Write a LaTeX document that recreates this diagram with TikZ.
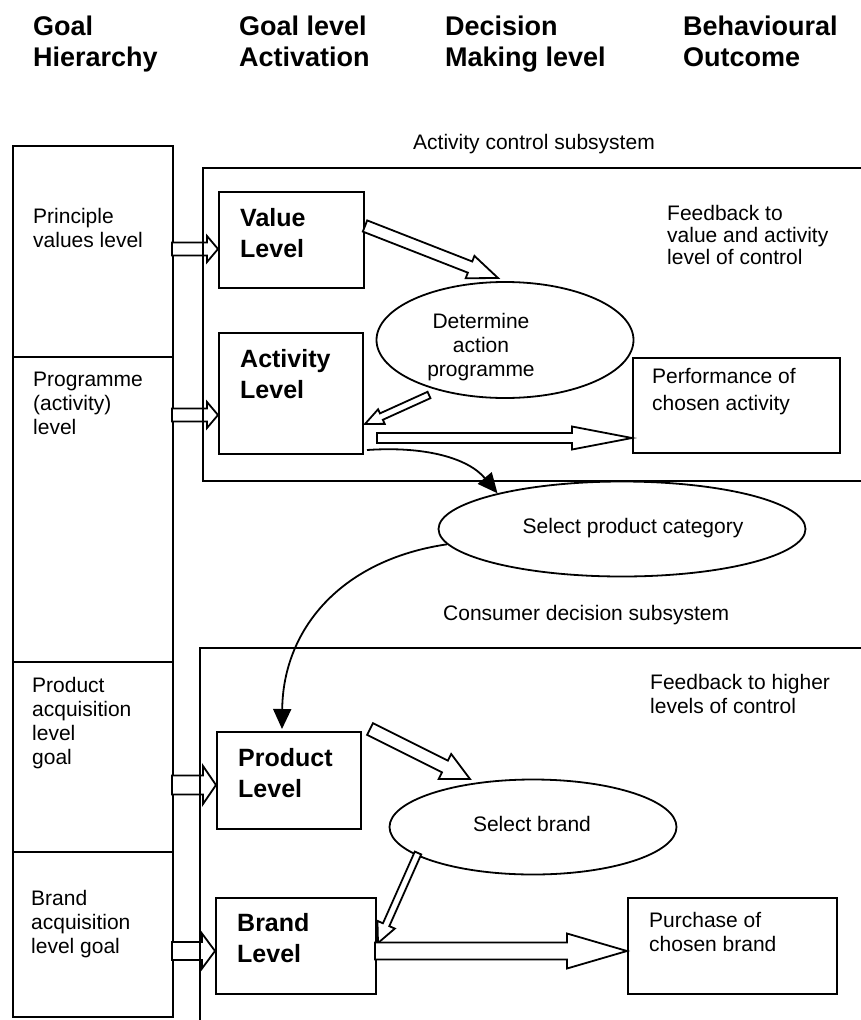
\documentclass[tikz,border=0pt]{standalone}
\usepackage{fontspec}
\setmainfont{Liberation Sans}
\usetikzlibrary{shapes.geometric,arrows.meta,calc}

% stacked lines, first baseline is the node baseline
\newcommand\stack[1]{\begin{tabular}[t]{@{}l@{}}#1\end{tabular}}
\newcommand\cstack[1]{\begin{tabular}[t]{@{}c@{}}#1\end{tabular}}

\newcommand\hdrfont{\fontsize{27}{31}\bfseries\selectfont}
\newcommand\txtfont{\fontsize{21}{24}\selectfont}
\newcommand\fbfont{\fontsize{21}{22}\selectfont}
\newcommand\lvlfont{\fontsize{25}{31.5}\bfseries\selectfont}

% hollow block arrow: start, tip, shaft half-width, head half-width, head length
\newcommand\blockarrow[5]{%
  \draw[blk] let \p1=(#1), \p2=(#2),
      \n2={veclen(\x2-(\x1),\y2-(\y1))-#5},
      \p3=($(\p1)!\n2!(\p2)$)
    in ($(\p1)!#3pt!90:(\p2)$)
    -- ($(\p3)!#3pt!90:(\p2)$)
    -- ($(\p3)!#4pt!90:(\p2)$)
    -- (\p2)
    -- ($(\p3)!#4pt!-90:(\p2)$)
    -- ($(\p3)!#3pt!-90:(\p2)$)
    -- ($(\p1)!#3pt!-90:(\p2)$)
    -- cycle;}

\begin{document}
\begin{tikzpicture}[x=1pt,y=-1pt,
  hdr/.style={anchor=base west, inner sep=0pt, font=\hdrfont},
  txt/.style={anchor=base west, inner sep=0pt, font=\txtfont},
  ctxt/.style={anchor=base, inner sep=0pt, font=\txtfont},
  lvl/.style={anchor=base west, inner sep=0pt, font=\lvlfont},
  frame/.style={draw, line width=2pt},
  cell/.style={draw, line width=2pt, anchor=north west, inner sep=0pt, minimum width=160pt},
  box/.style={draw, line width=2pt, anchor=north west, inner sep=0pt},
  oval/.style={draw, ellipse, line width=1.8pt, inner sep=0pt},
  blk/.style={draw, fill=white, line width=1.8pt, line join=miter},
  curve/.style={line width=1.8pt, -{Triangle[length=20pt,width=18pt]}}]
\useasboundingbox[fill=white] (0,0) rectangle (861,1020);

% column headings
\node[hdr] (h1) at (33,35) {\stack{Goal\\Hierarchy}};
\node[hdr] (h2) at (239,35) {\stack{Goal level\\Activation}};
\node[hdr] (h3) at (445,35) {\stack{Decision\\Making level}};
\node[hdr] (h4) at (683,35) {\stack{Behavioural\\Outcome}};

% goal hierarchy column
\node[cell, minimum height=211pt] (cA) at (12,145) {};
\node[cell, minimum height=305pt] (cB) at (12,356) {};
\node[cell, minimum height=190pt] (cC) at (12,661) {};
\node[cell, minimum height=165pt] (cD) at (12,851) {};
\node[txt] (tA) at (33,223) {\stack{Principle\\values level}};
\node[txt] (tB) at (33,386) {\stack{Programme\\(activity)\\level}};
\node[txt] (tC) at (32,692) {\stack{Product\\acquisition\\level\\goal}};
\node[txt] (tD) at (31,905) {\stack{Brand\\acquisition\\level goal}};

% level boxes
\node[box, minimum width=145pt, minimum height=96pt] (val) at (218,191) {};
\node[lvl] (valt) at (240,226) {\stack{Value\\Level}};
\node[box, minimum width=144pt, minimum height=121pt] (act) at (218,332) {};
\node[lvl] (actt) at (240,367) {\stack{Activity\\Level}};
\node[box, minimum width=144pt, minimum height=97pt] (prod) at (216,731) {};
\node[lvl] (prodt) at (238,766) {\stack{Product\\Level}};
\node[box, minimum width=160pt, minimum height=96pt] (brand) at (215,897) {};
\node[lvl] (brandt) at (237,931) {\stack{Brand\\Level}};

% outcome boxes
\node[box, minimum width=207pt, minimum height=95pt] (perf) at (632,357) {};
\node[txt] (perft) at (652,383) {\stack{Performance of\\[3pt]chosen activity}};
\node[box, minimum width=209pt, minimum height=96pt] (purch) at (627,897) {};
\node[txt] (purcht) at (649,927) {\stack{Purchase of\\chosen brand}};

% decision ellipses
\node[oval, minimum width=257pt, minimum height=116pt] (det) at (505,340) {};
\node[ctxt] (dett) at (481,328) {\cstack{Determine\\action\\programme}};
\node[oval, minimum width=367pt, minimum height=95pt] (spc) at (622,529) {};
\node[ctxt] (spct) at (633,533) {Select product category};
\node[oval, minimum width=287pt, minimum height=95pt] (sb) at (533,827) {};
\node[ctxt] (sbt) at (532,831) {Select brand};

% subsystem captions and feedback notes
\node[txt] (acs) at (413,149) {Activity control subsystem};
\node[txt] (cds) at (443,620) {Consumer decision subsystem};
\node[txt, font=\fbfont] (fb1) at (667,220) {\stack{Feedback to\\value and activity\\level of control}};
\node[txt] (fb2) at (650,689) {\stack{Feedback to higher\\levels of control}};

% arrow end points
\coordinate (a1s) at (172,249);  \coordinate (a1e) at (218,249);
\coordinate (a2s) at (172,415);  \coordinate (a2e) at (218,415);
\coordinate (a3s) at (172,785);  \coordinate (a3e) at (216,785);
\coordinate (a4s) at (172,951);  \coordinate (a4e) at (215,951);
\coordinate (a5s) at (365,226);  \coordinate (a5e) at (498,278);
\coordinate (a6s) at (429,395);  \coordinate (a6e) at (365,424);
\coordinate (a7s) at (377,438);  \coordinate (a7e) at (632,438);
\coordinate (a8s) at (370,729);  \coordinate (a8e) at (470,779);
\coordinate (a9s) at (418,853);  \coordinate (a9e) at (378,943);
\coordinate (a10s) at (375,951); \coordinate (a10e) at (627,951);

% goal activation arrows
\blockarrow{a1s}{a1e}{6.5}{13}{11}
\blockarrow{a2s}{a2e}{6.5}{13}{11}
\blockarrow{a3s}{a3e}{9.5}{19}{13}
\blockarrow{a4s}{a4e}{9}{17.5}{13}

% subsystem frames, open to the right
\draw[frame] (861,168) -- (203,168) -- (203,481) -- (861,481);
\draw[frame] (861,648) -- (200,648) -- (200,1020);

% decision flow arrows
\blockarrow{a5s}{a5e}{6}{12}{30}
\blockarrow{a6s}{a6e}{3.5}{8}{18}
\blockarrow{a7s}{a7e}{5}{11.5}{60}
\blockarrow{a8s}{a8e}{6.5}{14}{28}
\blockarrow{a9s}{a9e}{3.5}{9.5}{20}
\blockarrow{a10s}{a10e}{8.5}{17.5}{60}

% links between the two subsystems
\coordinate (c1s) at (367,450);
\coordinate (c2e) at (282,729);
\draw[curve] (c1s) .. controls (425,446) and (468,458) .. (spc.164);
\draw[curve] (spc.185) .. controls (340,560) and (283,630) .. (c2e);
\end{tikzpicture}
\end{document}
